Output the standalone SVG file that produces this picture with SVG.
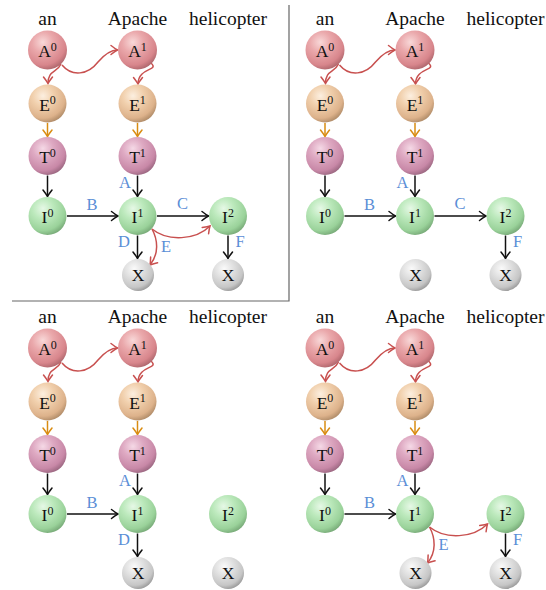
<svg xmlns="http://www.w3.org/2000/svg" width="546" height="590" viewBox="0 0 546 590">
<style>
.w{font-family:"Liberation Serif","Times New Roman",serif;font-size:19.5px;fill:#111;text-anchor:middle}
.n{font-family:"Liberation Serif","Times New Roman",serif;font-size:17.5px;fill:#111;text-anchor:middle}
.s{font-size:12px}
.lb{font-family:"Liberation Serif","Times New Roman",serif;font-size:16.5px;fill:#5b8ed6;text-anchor:middle}
.k{fill:none;stroke:#111;stroke-width:1.5;marker-end:url(#mk)}
.o{fill:none;stroke:#d98c12;stroke-width:1.5;marker-end:url(#mo)}
.r{fill:none;stroke:#c8504f;stroke-width:1.5;marker-end:url(#mr)}
.frame{fill:none;stroke:#666;stroke-width:1.2}
</style>
<defs>
<radialGradient id="gA" cx="0.38" cy="0.3" r="0.78">
<stop offset="0" stop-color="#f8d8d8"/><stop offset="0.35" stop-color="#eaa8ab"/><stop offset="0.75" stop-color="#d8868c"/><stop offset="1" stop-color="#a05c62"/>
</radialGradient>
<radialGradient id="gE" cx="0.38" cy="0.3" r="0.78">
<stop offset="0" stop-color="#fcefe0"/><stop offset="0.35" stop-color="#f1d0ad"/><stop offset="0.75" stop-color="#ddb28b"/><stop offset="1" stop-color="#a07e5c"/>
</radialGradient>
<radialGradient id="gT" cx="0.38" cy="0.3" r="0.78">
<stop offset="0" stop-color="#f5d9e6"/><stop offset="0.35" stop-color="#dea9c2"/><stop offset="0.75" stop-color="#c888a7"/><stop offset="1" stop-color="#8c5c74"/>
</radialGradient>
<radialGradient id="gI" cx="0.38" cy="0.3" r="0.78">
<stop offset="0" stop-color="#e6f8e6"/><stop offset="0.35" stop-color="#bce9bc"/><stop offset="0.75" stop-color="#9ad29a"/><stop offset="1" stop-color="#6c9c6c"/>
</radialGradient>
<radialGradient id="gX" cx="0.38" cy="0.3" r="0.78">
<stop offset="0" stop-color="#fafafa"/><stop offset="0.35" stop-color="#e2e2e2"/><stop offset="0.75" stop-color="#c6c6c6"/><stop offset="1" stop-color="#8a8a8a"/>
</radialGradient>
<marker id="mk" markerUnits="userSpaceOnUse" orient="auto" markerWidth="12" markerHeight="12" viewBox="-8 -6 10 12" refX="0" refY="0">
<path d="M-6.5,-4.5 Q-2,-1 0,0 Q-2,1 -6.5,4.5" fill="none" stroke="#111" stroke-width="1.5" stroke-linecap="round"/>
</marker>
<marker id="mo" markerUnits="userSpaceOnUse" orient="auto" markerWidth="12" markerHeight="12" viewBox="-8 -6 10 12" refX="0" refY="0">
<path d="M-6.5,-4.5 Q-2,-1 0,0 Q-2,1 -6.5,4.5" fill="none" stroke="#d98c12" stroke-width="1.5" stroke-linecap="round"/>
</marker>
<marker id="mr" markerUnits="userSpaceOnUse" orient="auto" markerWidth="12" markerHeight="12" viewBox="-8 -6 10 12" refX="0" refY="0">
<path d="M-6.5,-4.5 Q-2,-1 0,0 Q-2,1 -6.5,4.5" fill="none" stroke="#c8504f" stroke-width="1.5" stroke-linecap="round"/>
</marker>
</defs>

<path class="frame" d="M289,5 V301 H12"/>

<!-- Panel 1 -->
<g id="panel1">
<g class="words"><text class="w" x="47.5" y="25">an</text><text class="w" x="137.5" y="25">Apache</text><text class="w" x="228" y="25">helicopter</text></g>
<g id="p1-connectors">
<path class="r" d="M61,64 C57,73 48,70 48,83.5"/>
<path class="r" d="M62,65 C72,77 88,75 98,62 C104,55 110,50 117.5,50"/>
<path class="r" d="M151,63 C160,71 138,67 138,84"/>
<path class="o" d="M47.5,123 V136.5"/>
<path class="o" d="M137.5,123 V136.5"/>
<path class="k" d="M47.5,175.5 V196.5"/>
<path class="k" d="M137.5,175.5 V196.5"/>
<path class="k" d="M67,216 H118"/>
<path class="k" d="M157,216 H208.5"/>
<path class="k" d="M137.5,235.5 V258.5"/>
<path class="k" d="M228,235.5 V258.5"/>
<path class="r" d="M152,229 C168,242 196,240 210,226"/>
<path class="r" d="M152,229 C158,240 159,254 150,265"/>
<text class="lb" x="125" y="188">A</text>
<text class="lb" x="92" y="210">B</text>
<text class="lb" x="182.5" y="209">C</text>
<text class="lb" x="124" y="247">D</text>
<text class="lb" x="166" y="252">E</text>
<text class="lb" x="240" y="247">F</text>
</g>
<g id="p1-A0"><circle cx="47.5" cy="50" r="19.5" fill="url(#gA)"/><text class="n" x="47.5" y="57">A<tspan class="s" dy="-6.5">0</tspan></text></g>
<g id="p1-A1"><circle cx="137.5" cy="50" r="19.5" fill="url(#gA)"/><text class="n" x="137.5" y="57">A<tspan class="s" dy="-6.5">1</tspan></text></g>
<g id="p1-E0"><circle cx="47.5" cy="103.5" r="19" fill="url(#gE)"/><text class="n" x="47.5" y="110.5">E<tspan class="s" dy="-6.5">0</tspan></text></g>
<g id="p1-E1"><circle cx="137.5" cy="103.5" r="19" fill="url(#gE)"/><text class="n" x="137.5" y="110.5">E<tspan class="s" dy="-6.5">1</tspan></text></g>
<g id="p1-T0"><circle cx="47.5" cy="156" r="19" fill="url(#gT)"/><text class="n" x="47.5" y="163">T<tspan class="s" dy="-6.5">0</tspan></text></g>
<g id="p1-T1"><circle cx="137.5" cy="156" r="19" fill="url(#gT)"/><text class="n" x="137.5" y="163">T<tspan class="s" dy="-6.5">1</tspan></text></g>
<g id="p1-I0"><circle cx="47.5" cy="216" r="19" fill="url(#gI)"/><text class="n" x="47.5" y="223">I<tspan class="s" dy="-6.5">0</tspan></text></g>
<g id="p1-I1"><circle cx="137.5" cy="216" r="19" fill="url(#gI)"/><text class="n" x="137.5" y="223">I<tspan class="s" dy="-6.5">1</tspan></text></g>
<g id="p1-I2"><circle cx="228" cy="216" r="19" fill="url(#gI)"/><text class="n" x="228" y="223">I<tspan class="s" dy="-6.5">2</tspan></text></g>
<g id="p1-X1"><circle cx="138" cy="275" r="16" fill="url(#gX)"/><text class="n" x="138" y="281">X</text></g>
<g id="p1-X2"><circle cx="228" cy="275" r="16" fill="url(#gX)"/><text class="n" x="228" y="281">X</text></g>
</g>

<!-- Panel 2 -->
<g id="panel2" transform="translate(277.5,0)">
<g class="words"><text class="w" x="47.5" y="25">an</text><text class="w" x="137.5" y="25">Apache</text><text class="w" x="228" y="25">helicopter</text></g>
<g id="p2-connectors">
<path class="r" d="M61,64 C57,73 48,70 48,83.5"/>
<path class="r" d="M62,65 C72,77 88,75 98,62 C104,55 110,50 117.5,50"/>
<path class="r" d="M151,63 C160,71 138,67 138,84"/>
<path class="o" d="M47.5,123 V136.5"/>
<path class="o" d="M137.5,123 V136.5"/>
<path class="k" d="M47.5,175.5 V196.5"/>
<path class="k" d="M137.5,175.5 V196.5"/>
<path class="k" d="M67,216 H118"/>
<path class="k" d="M157,216 H208.5"/>
<path class="k" d="M228,235.5 V258.5"/>
<text class="lb" x="125" y="188">A</text>
<text class="lb" x="92" y="210">B</text>
<text class="lb" x="182.5" y="209">C</text>
<text class="lb" x="240" y="247">F</text>
</g>
<g id="p2-A0"><circle cx="47.5" cy="50" r="19.5" fill="url(#gA)"/><text class="n" x="47.5" y="57">A<tspan class="s" dy="-6.5">0</tspan></text></g>
<g id="p2-A1"><circle cx="137.5" cy="50" r="19.5" fill="url(#gA)"/><text class="n" x="137.5" y="57">A<tspan class="s" dy="-6.5">1</tspan></text></g>
<g id="p2-E0"><circle cx="47.5" cy="103.5" r="19" fill="url(#gE)"/><text class="n" x="47.5" y="110.5">E<tspan class="s" dy="-6.5">0</tspan></text></g>
<g id="p2-E1"><circle cx="137.5" cy="103.5" r="19" fill="url(#gE)"/><text class="n" x="137.5" y="110.5">E<tspan class="s" dy="-6.5">1</tspan></text></g>
<g id="p2-T0"><circle cx="47.5" cy="156" r="19" fill="url(#gT)"/><text class="n" x="47.5" y="163">T<tspan class="s" dy="-6.5">0</tspan></text></g>
<g id="p2-T1"><circle cx="137.5" cy="156" r="19" fill="url(#gT)"/><text class="n" x="137.5" y="163">T<tspan class="s" dy="-6.5">1</tspan></text></g>
<g id="p2-I0"><circle cx="47.5" cy="216" r="19" fill="url(#gI)"/><text class="n" x="47.5" y="223">I<tspan class="s" dy="-6.5">0</tspan></text></g>
<g id="p2-I1"><circle cx="137.5" cy="216" r="19" fill="url(#gI)"/><text class="n" x="137.5" y="223">I<tspan class="s" dy="-6.5">1</tspan></text></g>
<g id="p2-I2"><circle cx="228" cy="216" r="19" fill="url(#gI)"/><text class="n" x="228" y="223">I<tspan class="s" dy="-6.5">2</tspan></text></g>
<g id="p2-X1"><circle cx="138" cy="275" r="16" fill="url(#gX)"/><text class="n" x="138" y="281">X</text></g>
<g id="p2-X2"><circle cx="228" cy="275" r="16" fill="url(#gX)"/><text class="n" x="228" y="281">X</text></g>
</g>

<!-- Panel 3 -->
<g id="panel3" transform="translate(0,298)">
<g class="words"><text class="w" x="47.5" y="25">an</text><text class="w" x="137.5" y="25">Apache</text><text class="w" x="228" y="25">helicopter</text></g>
<g id="p3-connectors">
<path class="r" d="M61,64 C57,73 48,70 48,83.5"/>
<path class="r" d="M62,65 C72,77 88,75 98,62 C104,55 110,50 117.5,50"/>
<path class="r" d="M151,63 C160,71 138,67 138,84"/>
<path class="o" d="M47.5,123 V136.5"/>
<path class="o" d="M137.5,123 V136.5"/>
<path class="k" d="M47.5,175.5 V196.5"/>
<path class="k" d="M137.5,175.5 V196.5"/>
<path class="k" d="M67,216 H118"/>
<path class="k" d="M137.5,235.5 V258.5"/>
<text class="lb" x="125" y="188">A</text>
<text class="lb" x="92" y="210">B</text>
<text class="lb" x="124" y="247">D</text>
</g>
<g id="p3-A0"><circle cx="47.5" cy="50" r="19.5" fill="url(#gA)"/><text class="n" x="47.5" y="57">A<tspan class="s" dy="-6.5">0</tspan></text></g>
<g id="p3-A1"><circle cx="137.5" cy="50" r="19.5" fill="url(#gA)"/><text class="n" x="137.5" y="57">A<tspan class="s" dy="-6.5">1</tspan></text></g>
<g id="p3-E0"><circle cx="47.5" cy="103.5" r="19" fill="url(#gE)"/><text class="n" x="47.5" y="110.5">E<tspan class="s" dy="-6.5">0</tspan></text></g>
<g id="p3-E1"><circle cx="137.5" cy="103.5" r="19" fill="url(#gE)"/><text class="n" x="137.5" y="110.5">E<tspan class="s" dy="-6.5">1</tspan></text></g>
<g id="p3-T0"><circle cx="47.5" cy="156" r="19" fill="url(#gT)"/><text class="n" x="47.5" y="163">T<tspan class="s" dy="-6.5">0</tspan></text></g>
<g id="p3-T1"><circle cx="137.5" cy="156" r="19" fill="url(#gT)"/><text class="n" x="137.5" y="163">T<tspan class="s" dy="-6.5">1</tspan></text></g>
<g id="p3-I0"><circle cx="47.5" cy="216" r="19" fill="url(#gI)"/><text class="n" x="47.5" y="223">I<tspan class="s" dy="-6.5">0</tspan></text></g>
<g id="p3-I1"><circle cx="137.5" cy="216" r="19" fill="url(#gI)"/><text class="n" x="137.5" y="223">I<tspan class="s" dy="-6.5">1</tspan></text></g>
<g id="p3-I2"><circle cx="228" cy="216" r="19" fill="url(#gI)"/><text class="n" x="228" y="223">I<tspan class="s" dy="-6.5">2</tspan></text></g>
<g id="p3-X1"><circle cx="138" cy="275" r="16" fill="url(#gX)"/><text class="n" x="138" y="281">X</text></g>
<g id="p3-X2"><circle cx="228" cy="275" r="16" fill="url(#gX)"/><text class="n" x="228" y="281">X</text></g>
</g>

<!-- Panel 4 -->
<g id="panel4" transform="translate(277.5,298)">
<g class="words"><text class="w" x="47.5" y="25">an</text><text class="w" x="137.5" y="25">Apache</text><text class="w" x="228" y="25">helicopter</text></g>
<g id="p4-connectors">
<path class="r" d="M61,64 C57,73 48,70 48,83.5"/>
<path class="r" d="M62,65 C72,77 88,75 98,62 C104,55 110,50 117.5,50"/>
<path class="r" d="M151,63 C160,71 138,67 138,84"/>
<path class="o" d="M47.5,123 V136.5"/>
<path class="o" d="M137.5,123 V136.5"/>
<path class="k" d="M47.5,175.5 V196.5"/>
<path class="k" d="M137.5,175.5 V196.5"/>
<path class="k" d="M67,216 H118"/>
<path class="k" d="M228,235.5 V258.5"/>
<path class="r" d="M152,229 C168,242 196,240 210,226"/>
<path class="r" d="M152,229 C158,240 159,254 150,265"/>
<text class="lb" x="125" y="188">A</text>
<text class="lb" x="92" y="210">B</text>
<text class="lb" x="166" y="252">E</text>
<text class="lb" x="240" y="247">F</text>
</g>
<g id="p4-A0"><circle cx="47.5" cy="50" r="19.5" fill="url(#gA)"/><text class="n" x="47.5" y="57">A<tspan class="s" dy="-6.5">0</tspan></text></g>
<g id="p4-A1"><circle cx="137.5" cy="50" r="19.5" fill="url(#gA)"/><text class="n" x="137.5" y="57">A<tspan class="s" dy="-6.5">1</tspan></text></g>
<g id="p4-E0"><circle cx="47.5" cy="103.5" r="19" fill="url(#gE)"/><text class="n" x="47.5" y="110.5">E<tspan class="s" dy="-6.5">0</tspan></text></g>
<g id="p4-E1"><circle cx="137.5" cy="103.5" r="19" fill="url(#gE)"/><text class="n" x="137.5" y="110.5">E<tspan class="s" dy="-6.5">1</tspan></text></g>
<g id="p4-T0"><circle cx="47.5" cy="156" r="19" fill="url(#gT)"/><text class="n" x="47.5" y="163">T<tspan class="s" dy="-6.5">0</tspan></text></g>
<g id="p4-T1"><circle cx="137.5" cy="156" r="19" fill="url(#gT)"/><text class="n" x="137.5" y="163">T<tspan class="s" dy="-6.5">1</tspan></text></g>
<g id="p4-I0"><circle cx="47.5" cy="216" r="19" fill="url(#gI)"/><text class="n" x="47.5" y="223">I<tspan class="s" dy="-6.5">0</tspan></text></g>
<g id="p4-I1"><circle cx="137.5" cy="216" r="19" fill="url(#gI)"/><text class="n" x="137.5" y="223">I<tspan class="s" dy="-6.5">1</tspan></text></g>
<g id="p4-I2"><circle cx="228" cy="216" r="19" fill="url(#gI)"/><text class="n" x="228" y="223">I<tspan class="s" dy="-6.5">2</tspan></text></g>
<g id="p4-X1"><circle cx="138" cy="275" r="16" fill="url(#gX)"/><text class="n" x="138" y="281">X</text></g>
<g id="p4-X2"><circle cx="228" cy="275" r="16" fill="url(#gX)"/><text class="n" x="228" y="281">X</text></g>
</g>
</svg>
